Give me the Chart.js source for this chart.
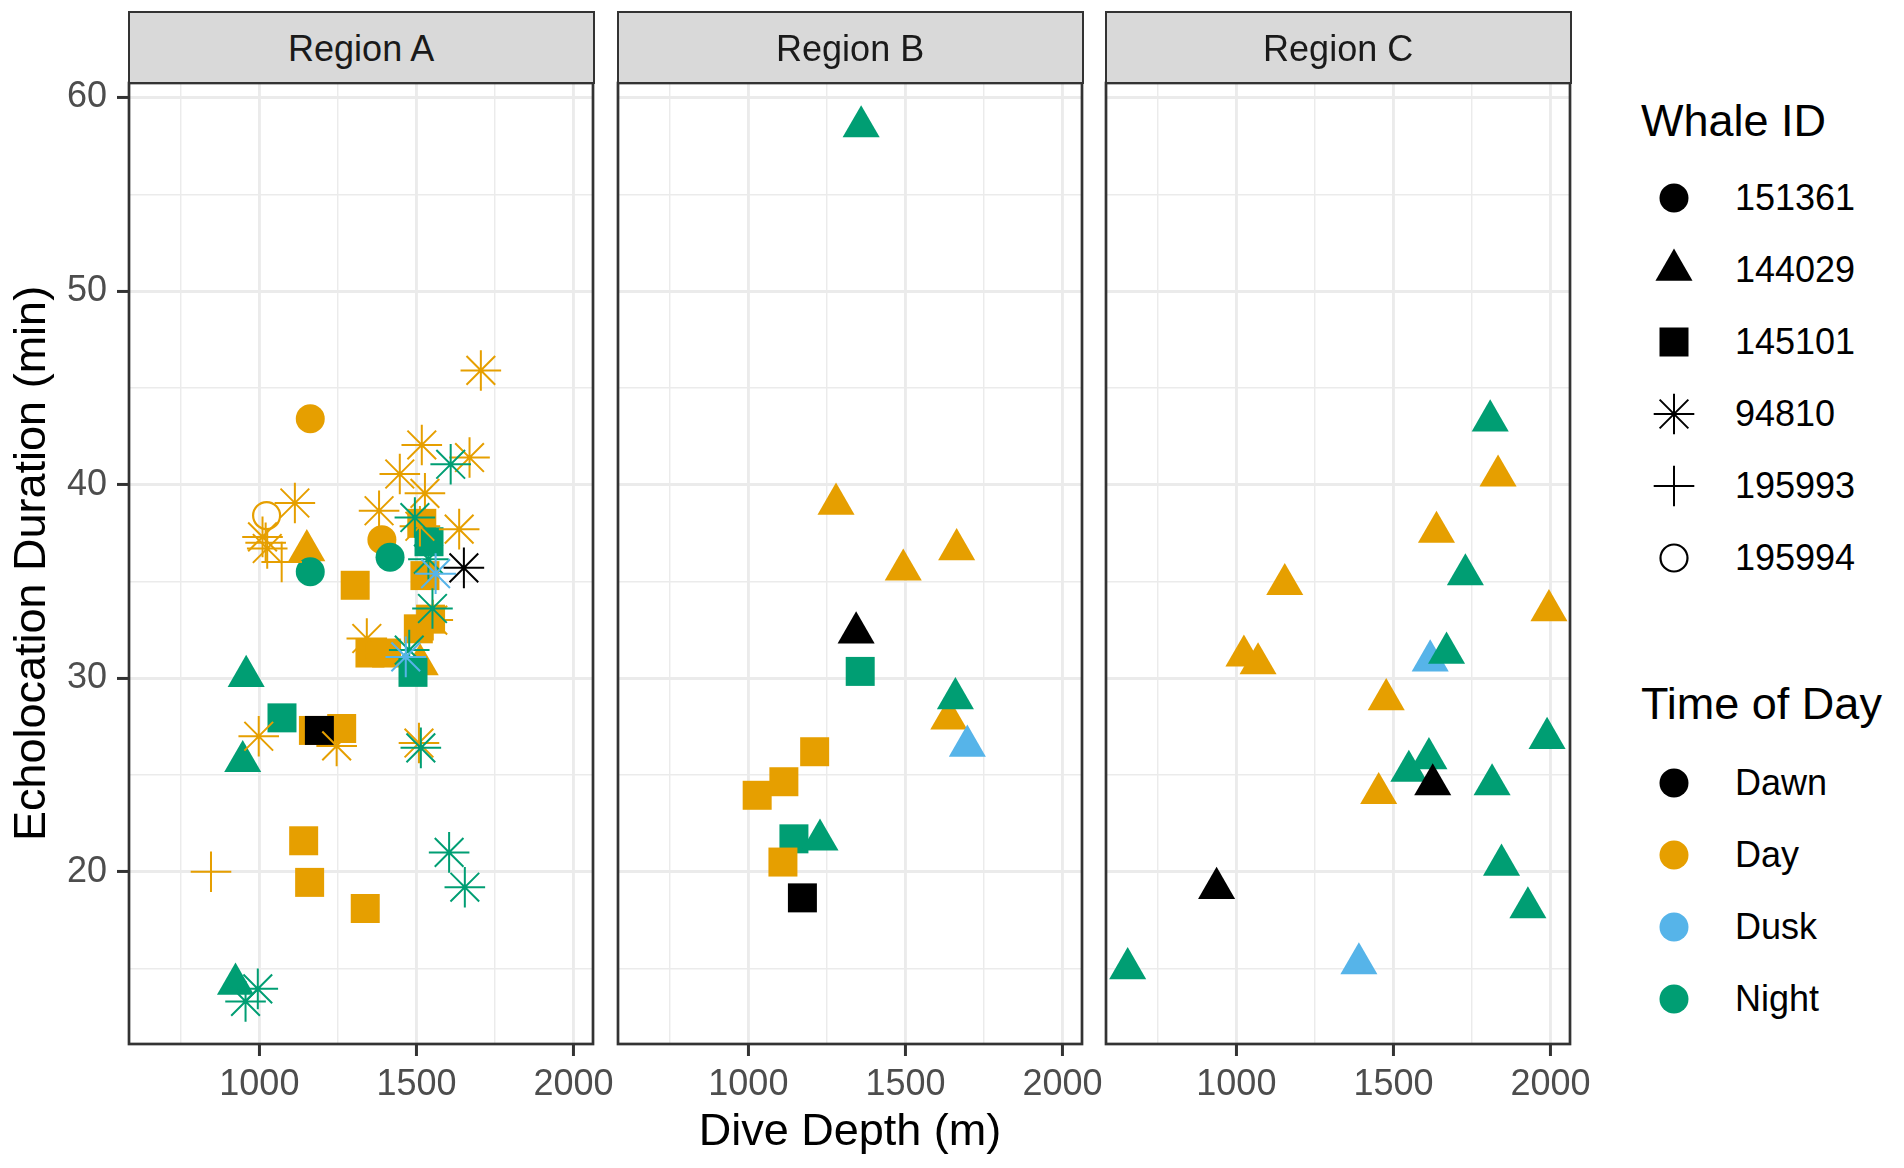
<!DOCTYPE html>
<html>
<head>
<meta charset="utf-8">
<script src="https://cdn.jsdelivr.net/npm/chart.js@4.4.1/dist/chart.umd.min.js"></script>
<style>
  html, body { margin: 0; padding: 0; background: #fff; }
  body { width: 1904px; height: 1168px; position: relative; overflow: hidden;
         font-family: 'Liberation Sans', Arial, sans-serif; }
  canvas { position: absolute; top: 60px; }
  .strip { position: absolute; top: 11px; height: 73px; width: 467px; box-sizing: border-box;
           border: 2.7px solid #333; background: #D9D9D9; color: #1A1A1A;
           font-size: 36px; text-align: center; line-height: 71px; }
  .ltitle { position: absolute; left: 1641px; font-size: 45px; line-height: 54px; color: #000; }
  .lkey { position: absolute; left: 1650px; width: 48px; height: 48px; }
  .llabel { position: absolute; left: 1735px; font-size: 36px; line-height: 42px; color: #000; }
</style>
</head>
<body>
<canvas id="panelA" width="650" height="1108" style="left:0px"></canvas>
<canvas id="panelB" width="580" height="1108" style="left:560px"></canvas>
<canvas id="panelC" width="580" height="1108" style="left:1048px"></canvas>
<script>
'use strict';

const regions = ['Region A', 'Region B', 'Region C'];
const whaleIds = ['151361', '144029', '145101', '94810', '195993', '195994'];
const timesOfDay = ['Dawn', 'Day', 'Dusk', 'Night'];
const xMajorTicks = [1000, 1500, 2000];
const xMinorTicks = [750, 1250, 1750];
const yMajorTicks = [20, 30, 40, 50, 60];
const yMinorTicks = [15, 25, 35, 45, 55];

// Region A
const depthA = [1151, 958, 947, 924, 1512,
  1305, 1517, 1527, 1506, 1545, 1352, 1405, 1172, 1262, 1141, 1160, 1337,
  1540, 1489, 1072, 1191,
  1162, 1390, 1162, 1416,
  1705, 1517, 1669, 1447, 1527, 1381, 1113, 1010, 1025, 1636, 1511, 1552, 1342, 998, 1246, 1508,
  1609, 1495, 1538, 1551, 1477, 1514, 1604, 1654, 956, 995,
  1561, 1466, 1651,
  846, 1020, 1071,
  1023];
const durationA = [36.6, 30.1, 25.7, 14.2, 30.7,
  34.8, 38.0, 35.3, 32.55, 33.05, 31.3, 31.3, 27.3, 27.4, 21.6, 19.45, 18.1,
  37.05, 30.3, 27.95, 27.3,
  43.4, 37.15, 35.5, 36.25,
  45.9, 42.05, 41.4, 40.55, 39.55, 38.65, 39.05, 37.3, 36.7, 37.7, 37.85, 33.0, 32.05, 27.0, 26.5, 26.65,
  41.05, 38.3, 36.15, 33.6, 31.45, 26.4, 21.0, 19.2, 13.3, 13.95,
  35.4, 31.1, 35.7,
  20.0, 37.0, 36.0,
  38.4];
const whaleA = ['144029', '144029', '144029', '144029', '144029',
  '145101', '145101', '145101', '145101', '145101', '145101', '145101', '145101', '145101', '145101', '145101', '145101',
  '145101', '145101', '145101', '145101',
  '151361', '151361', '151361', '151361',
  '94810', '94810', '94810', '94810', '94810', '94810', '94810', '94810', '94810', '94810', '94810', '94810', '94810', '94810', '94810', '94810',
  '94810', '94810', '94810', '94810', '94810', '94810', '94810', '94810', '94810', '94810',
  '94810', '94810', '94810',
  '195993', '195993', '195993',
  '195994'];
const timeA = ['Day', 'Night', 'Night', 'Night', 'Day',
  'Day', 'Day', 'Day', 'Day', 'Day', 'Day', 'Day', 'Day', 'Day', 'Day', 'Day', 'Day',
  'Night', 'Night', 'Night', 'Dawn',
  'Day', 'Day', 'Night', 'Night',
  'Day', 'Day', 'Day', 'Day', 'Day', 'Day', 'Day', 'Day', 'Day', 'Day', 'Day', 'Day', 'Day', 'Day', 'Day', 'Day',
  'Night', 'Night', 'Night', 'Night', 'Night', 'Night', 'Night', 'Night', 'Night', 'Night',
  'Dusk', 'Dusk', 'Dawn',
  'Day', 'Day', 'Day',
  'Day'];

// Region B
const depthB = [1356, 1145, 1211, 1113, 1028, 1110, 1172,
  1279, 1493, 1663, 1638, 1359, 1659, 1228, 1697, 1343];
const durationB = [30.35, 21.7, 26.2, 24.65, 23.95, 20.5, 18.65,
  39.0, 35.6, 36.65, 27.9, 58.5, 28.95, 21.65, 26.5, 32.35];
const whaleB = ['145101', '145101', '145101', '145101', '145101', '145101', '145101',
  '144029', '144029', '144029', '144029', '144029', '144029', '144029', '144029', '144029'];
const timeB = ['Night', 'Night', 'Day', 'Day', 'Day', 'Day', 'Dawn',
  'Day', 'Day', 'Day', 'Day', 'Night', 'Night', 'Night', 'Dusk', 'Dawn'];

// Region C
const depthC = [1833, 1637, 1154, 1995, 1024, 1069, 1477, 1453,
  1617, 1390,
  1808, 1729, 1669, 1989, 1549, 1613, 1814, 1844, 1928, 654,
  1625, 937];
const durationC = [40.45, 37.55, 34.85, 33.5, 31.15, 30.75, 28.9, 24.05,
  30.9, 15.25,
  43.3, 35.35, 31.3, 26.9, 25.2, 25.85, 24.5, 20.35, 18.15, 15.0,
  24.5, 19.15];
const whaleC = depthC.map(() => '144029');
const timeC = ['Day', 'Day', 'Day', 'Day', 'Day', 'Day', 'Day', 'Day',
  'Dusk', 'Dusk',
  'Night', 'Night', 'Night', 'Night', 'Night', 'Night', 'Night', 'Night', 'Night', 'Night',
  'Dawn', 'Dawn'];

const timeColors = { Dawn: '#000000', Day: '#E69F00', Dusk: '#56B4E9', Night: '#009E73' };
const whaleShapes = {
  '151361': { style: 'circle', r: 14.5, fill: true, bw: 0 },
  '144029': { style: 'triangle', r: 21.4, fill: true, bw: 0 },
  '145101': { style: 'rect', r: 20.5, fill: true, bw: 0 },
  '94810': { style: 'star', r: 20.3, fill: false, bw: 2 },
  '195993': { style: 'cross', r: 20.3, fill: false, bw: 2 },
  '195994': { style: 'circle', r: 13.5, fill: false, bw: 2.2 }
};

Chart.defaults.font.family = "'Liberation Sans', Arial, sans-serif";

const panelBorder = {
  id: 'panelBorder',
  afterDraw(chart) {
    const { ctx, chartArea: a } = chart;
    ctx.save();
    ctx.strokeStyle = '#333333';
    ctx.lineWidth = 2.7;
    ctx.strokeRect(a.left, a.top, a.right - a.left, a.bottom - a.top);
    ctx.restore();
  }
};

function tickList(minor, major) {
  return minor.concat(major).sort((a, b) => a - b).map(v => ({ value: v }));
}

function gridOptions(major, drawTicks) {
  const isMajor = c => c.tick && major.includes(c.tick.value);
  return {
    color: '#EBEBEB',
    lineWidth: c => isMajor(c) ? 2.9 : 1.45,
    drawTicks: drawTicks,
    tickLength: 12,
    tickWidth: 3,
    tickColor: c => isMajor(c) ? '#333333' : 'rgba(0,0,0,0)'
  };
}

function makePanel(id, depth, duration, whale, time, cfg) {
  const pts = depth.map((d, i) => ({ x: d, y: duration[i] }));
  const shape = c => whaleShapes[whale[c.dataIndex]] || whaleShapes['151361'];
  const colour = c => timeColors[time[c.dataIndex]] || '#000';

  return new Chart(document.getElementById(id), {
    type: 'scatter',
    data: {
      datasets: [{
        data: pts,
        pointStyle: c => shape(c).style,
        pointRadius: c => shape(c).r,
        pointHoverRadius: c => shape(c).r,
        pointBorderWidth: c => shape(c).bw,
        pointBackgroundColor: c => shape(c).fill ? colour(c) : 'rgba(0,0,0,0)',
        pointBorderColor: c => colour(c)
      }]
    },
    options: {
      responsive: false,
      animation: false,
      events: [],
      layout: { padding: { left: 0, top: 23, right: cfg.padRight, bottom: 0 } },
      plugins: { legend: { display: false }, tooltip: { enabled: false } },
      scales: {
        x: {
          type: 'linear', min: 585, max: 2062,
          afterBuildTicks: s => { s.ticks = tickList(xMinorTicks, xMajorTicks); },
          afterFit: s => {
            s.height = 124;
            s.paddingLeft = s.paddingRight = s.paddingTop = s.paddingBottom = 0;
          },
          border: { display: false },
          grid: gridOptions(xMajorTicks, true),
          ticks: {
            autoSkip: false, maxRotation: 0, minRotation: 0, padding: 7,
            color: '#4D4D4D', font: { size: 36 },
            callback: v => xMajorTicks.includes(v) ? String(v) : ''
          },
          title: {
            display: cfg.xTitle, text: 'Dive Depth (m)', color: '#000',
            font: { size: 45 }, padding: { top: 0, bottom: 8 }
          }
        },
        y: {
          type: 'linear', min: 11.1, max: 60.75,
          afterBuildTicks: s => { s.ticks = tickList(yMinorTicks, yMajorTicks); },
          afterFit: s => {
            s.width = cfg.yWidth;
            s.paddingLeft = s.paddingRight = s.paddingTop = s.paddingBottom = 0;
          },
          border: { display: false },
          grid: gridOptions(yMajorTicks, cfg.yLabels),
          ticks: {
            display: cfg.yLabels, autoSkip: false, padding: 10,
            color: '#4D4D4D', font: { size: 36 },
            callback: v => yMajorTicks.includes(v) ? String(v) : ''
          },
          title: {
            display: cfg.yLabels, text: 'Echolocation Duration (min)', color: '#000',
            font: { size: 45 }, padding: { top: 6, bottom: 0 }
          }
        }
      }
    },
    plugins: [panelBorder]
  });
}

makePanel('panelA', depthA, durationA, whaleA, timeA, { yWidth: 129, padRight: 57, yLabels: true, xTitle: false });
makePanel('panelB', depthB, durationB, whaleB, timeB, { yWidth: 58, padRight: 58, yLabels: false, xTitle: true });
makePanel('panelC', depthC, durationC, whaleC, timeC, { yWidth: 58, padRight: 58, yLabels: false, xTitle: false });

// facet strips
const panelLefts = [129, 618, 1106];
regions.forEach((name, i) => {
  const d = document.createElement('div');
  d.className = 'strip';
  d.style.left = (panelLefts[i] - 1.35) + 'px';
  d.textContent = name;
  document.body.appendChild(d);
});

// legends
function keySvg(inner) {
  return '<svg width="48" height="48" viewBox="-24 -24 48 48">' + inner + '</svg>';
}
function shapeSvg(id, col) {
  const s = whaleShapes[id];
  const a = s.r, d = s.r * Math.SQRT1_2;
  if (s.style === 'circle' && s.fill) return '<circle r="' + s.r + '" fill="' + col + '"/>';
  if (s.style === 'circle') return '<circle r="' + s.r + '" fill="none" stroke="' + col + '" stroke-width="' + s.bw + '"/>';
  if (s.style === 'triangle') {
    const w = s.r * Math.sqrt(3) / 2;
    return '<polygon points="0,' + (-s.r) + ' ' + w + ',' + (s.r / 2) + ' ' + (-w) + ',' + (s.r / 2) + '" fill="' + col + '"/>';
  }
  if (s.style === 'rect') return '<rect x="' + (-d) + '" y="' + (-d) + '" width="' + 2 * d + '" height="' + 2 * d + '" fill="' + col + '"/>';
  let p = 'M' + (-a) + ' 0H' + a + 'M0 ' + (-a) + 'V' + a;
  if (s.style === 'star') p += 'M' + (-d) + ' ' + (-d) + 'L' + d + ' ' + d + 'M' + (-d) + ' ' + d + 'L' + d + ' ' + (-d);
  return '<path d="' + p + '" stroke="' + col + '" stroke-width="' + s.bw + '" fill="none"/>';
}
function addLegend(title, titleY, labels, firstY, keyFn) {
  const t = document.createElement('div');
  t.className = 'ltitle';
  t.style.top = (titleY - 27) + 'px';
  t.textContent = title;
  document.body.appendChild(t);
  labels.forEach((lab, i) => {
    const y = firstY + i * 72;
    const k = document.createElement('div');
    k.className = 'lkey';
    k.style.top = (y - 24) + 'px';
    k.innerHTML = keySvg(keyFn(lab));
    document.body.appendChild(k);
    const l = document.createElement('div');
    l.className = 'llabel';
    l.style.top = (y - 21) + 'px';
    l.textContent = lab;
    document.body.appendChild(l);
  });
}
addLegend('Whale ID', 121, whaleIds, 198, id => shapeSvg(id, '#000'));
addLegend('Time of Day', 704, timesOfDay, 783, t => '<circle r="14.5" fill="' + timeColors[t] + '"/>');
</script>
</body>
</html>
